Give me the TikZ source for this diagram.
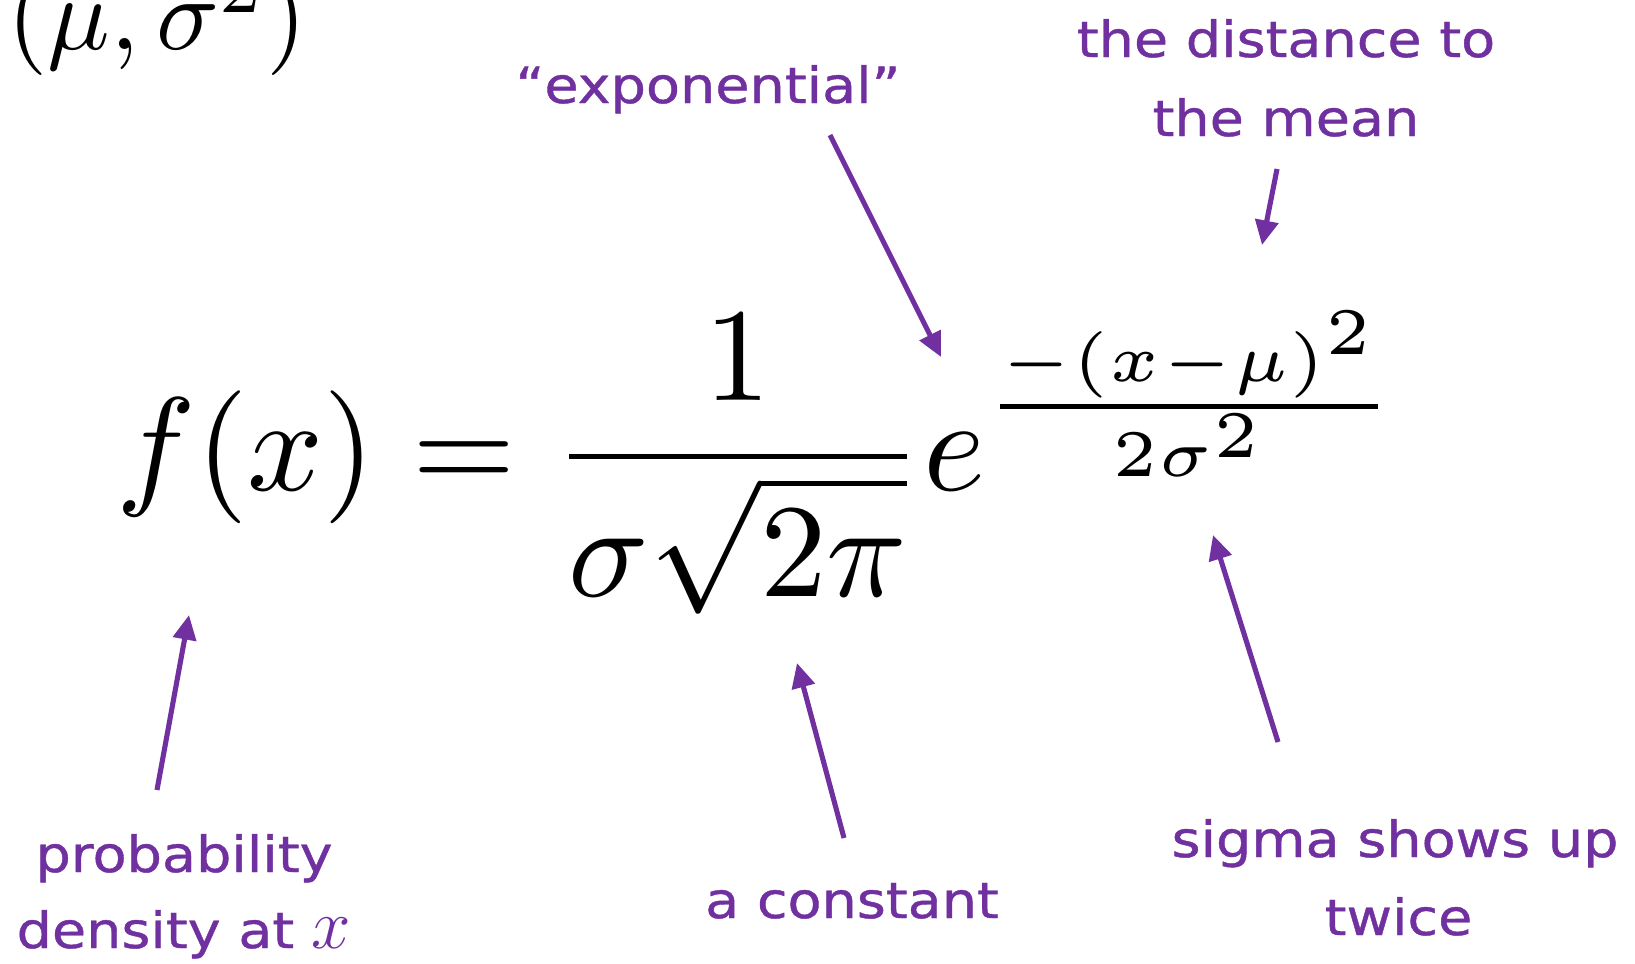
\documentclass[tikz,border=0pt]{standalone}
\usepackage{graphicx}
\usepackage{fontspec}
\newfontfamily\hand[FakeStretch=1.115,FakeBold=0.8]{DejaVu Sans}
\usetikzlibrary{arrows.meta}
\definecolor{note}{HTML}{7030A0}
\begin{document}
\begin{tikzpicture}[x=1cm,y=1cm,
  lab/.style={font=\hand\fontsize{14.2}{17}\selectfont, text=note, inner sep=0pt, anchor=base},
  pointer/.style={draw=note, line width=1.45pt, -{Triangle[length=7pt,width=6.5pt]}},
  mathnode/.style={inner sep=0pt, anchor=base west}]
\useasboundingbox (0,0) rectangle (16.35,9.63);
\clip (0,0) rectangle (16.35,9.63);
\fill[white] (0,0) rectangle (16.35,9.63);

% formulas
\node[mathnode, scale=2.96] (param) at (0.05,9.13) {$(\mu,\sigma^2)$};
\node[mathnode, scale=3.784] (pdf) at (1.14,4.73) {$\displaystyle f(x) = \frac{1}{\sigma\sqrt{2\pi}}e$};
\node[inner sep=0pt, anchor=base, scale=3.784] (expo) at (11.89,5.40) {$\scriptscriptstyle\frac{-(x-\mu)^2}{2\sigma^2}$};

% labels
\node[lab] (expLab) at (7.08,8.60) {“exponential”};
\node[lab] (distA) at (12.86,9.06) {the distance to};
\node[lab] (distB) at (12.86,8.27) {the mean};
\node[lab] (probA) at (1.84,0.91) {probability};
\node[lab] (probB) at (1.84,0.15) {density at \scalebox{1.4}{$x$}};
\node[lab] (const) at (8.52,0.45) {a constant};
\node[lab] (sigA) at (13.95,1.06) {sigma shows up};
\node[lab] (sigB) at (13.985,0.28) {twice};

% arrow ends
\coordinate (expS) at (8.30,8.28);
\coordinate (expT) at (9.41,6.06);
\coordinate (distS) at (12.77,7.94);
\coordinate (distT) at (12.62,7.18);
\coordinate (probS) at (1.57,1.73);
\coordinate (probT) at (1.89,3.48);
\coordinate (constS) at (8.44,1.25);
\coordinate (constT) at (7.97,3.00);
\coordinate (sigS) at (12.78,2.21);
\coordinate (sigT) at (12.13,4.28);

\draw[pointer] (expS) -- (expT);
\draw[pointer] (distS) -- (distT);
\draw[pointer] (probS) -- (probT);
\draw[pointer] (constS) -- (constT);
\draw[pointer] (sigS) -- (sigT);
\end{tikzpicture}
\end{document}
